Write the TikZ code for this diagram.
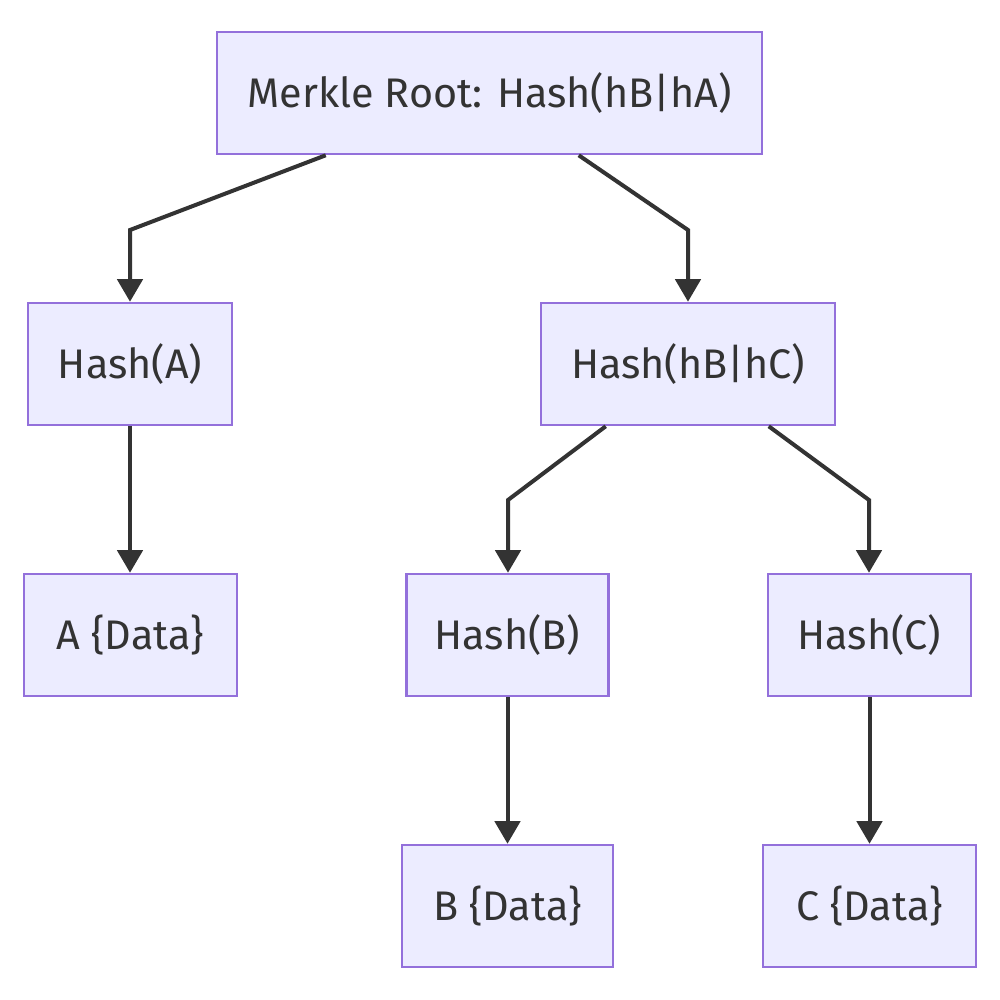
\documentclass[tikz,border=0pt]{standalone}
\usepackage{fontspec}
\setmainfont{Fira Sans}
\usetikzlibrary{arrows.meta,calc}
\definecolor{nodefill}{HTML}{ECECFF}
\definecolor{nodeline}{HTML}{9370DB}
\definecolor{ink}{HTML}{333333}
\begin{document}
\begin{tikzpicture}[x=0.75pt,y=-0.75pt,
  box/.style={draw=nodeline,fill=nodefill,line width=1.9pt,inner sep=0pt,
    minimum height=91.5pt,text=ink,font=\fontsize{31}{36}\selectfont},
  arr/.style={draw=ink,line width=3pt,-{Triangle[length=17pt,width=19pt]}}]
\useasboundingbox (0,0) rectangle (1000,1000);
\node[box,minimum width=408.75pt] (root) at (489.5,93) {Merkle Root: Hash(hB|hA)};
\node[box,minimum width=153pt] (hA) at (130,364) {Hash(A)};
\node[box,minimum width=220.5pt] (hBC) at (688,364) {Hash(hB|hC)};
\node[box,minimum width=159.75pt] (dA) at (130.5,635) {A \{Data\}};
\node[box,minimum width=151.5pt] (hB) at (507.5,635) {Hash(B)};
\node[box,minimum width=152.25pt] (hC) at (869.5,635) {Hash(C)};
\node[box,minimum width=158.25pt] (dB) at (507.5,906) {B \{Data\}};
\node[box,minimum width=159.75pt] (dC) at (869.5,906) {C \{Data\}};
\coordinate (k1) at (130,230);
\coordinate (k2) at (688,230);
\coordinate (k3) at (508,500);
\coordinate (k4) at (869,500);
\draw[arr] ($(root.south west)+(110,0)$) -- (k1) -- (hA.north);
\draw[arr] ($(root.south west)+(363,0)$) -- (k2) -- (hBC.north);
\draw[arr] (hA.south) -- (hA.south |- dA.north);
\draw[arr] ($(hBC.south west)+(66,0)$) -- (k3) -- (k3 |- hB.north);
\draw[arr] ($(hBC.south west)+(229,0)$) -- (k4) -- (k4 |- hC.north);
\draw[arr] (hB.south) -- (hB.south |- dB.north);
\draw[arr] (hC.south) -- (hC.south |- dC.north);
\end{tikzpicture}
\end{document}
